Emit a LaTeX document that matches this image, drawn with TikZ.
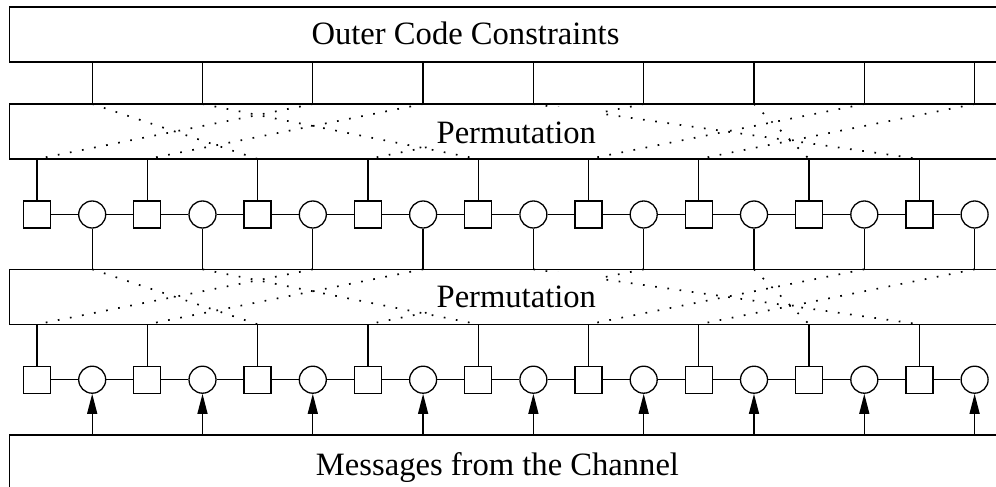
\documentclass[tikz,border=0pt]{standalone}
\usepackage{fontspec}
\setmainfont{Liberation Serif}
\usetikzlibrary{arrows.meta}
\begin{document}
\begin{tikzpicture}[x=1pt,y=-1pt,
  line width=1.3pt,
  sq/.style={draw, rectangle, minimum size=27pt, inner sep=0pt},
  ci/.style={draw, circle, minimum size=27pt, inner sep=0pt},
  permline/.style={line width=1.7pt, dash pattern=on 1.7pt off 10.6pt},
  lbl/.style={font=\fontsize{32.6}{39}\selectfont, anchor=base, inner sep=0pt},
  permlbl/.style={lbl, fill=white, inner xsep=3pt, inner ysep=2pt, text height=34pt, text depth=3pt},
  arr/.style={-{Triangle[length=20pt,width=10pt]}}]
\path[use as bounding box] (0,0) rectangle (996,487);
\clip (0,0) rectangle (996,487);
% boxes (open to the right)
\draw (9.3,7) rectangle (1010,62);
\draw (9.3,104) rectangle (1010,159);
\draw (9.3,269.3) rectangle (1010,324.3);
\draw (9.3,435) rectangle (1010,500);
% nodes and coordinates
\foreach \i in {1,...,9} {
  \pgfmathsetmacro\sx{37+110.3*(\i-1)}
  \pgfmathsetmacro\cx{92.2+110.3*(\i-1)}
  \coordinate (ob\i) at (\cx,62);
  \coordinate (pt\i) at (\cx,104);
  \coordinate (pb\i) at (\sx,159);
  \node[sq] (s\i) at (\sx,214.5) {};
  \node[ci] (c\i) at (\cx,214.5) {};
  \coordinate (qt\i) at (\cx,269.3);
  \coordinate (qb\i) at (\sx,324.3);
  \node[sq] (u\i) at (\sx,379.7) {};
  \node[ci] (v\i) at (\cx,379.7) {};
  \coordinate (mt\i) at (\cx,435);
}
% connectors
\foreach \i in {1,...,9} {
  \draw (ob\i) -- (pt\i);
  \draw (pb\i) -- (s\i.north);
  \draw (c\i.south) -- (qt\i);
  \draw (qb\i) -- (u\i.north);
  \draw[arr] (mt\i) -- (v\i.south);
  \draw (s\i) -- (c\i);
  \draw (u\i) -- (v\i);
}
\foreach \i [evaluate=\i as \j using int(\i+1)] in {1,...,8} {
  \draw (c\i) -- (s\j);
  \draw (v\i) -- (u\j);
}
% permutations
\foreach \a/\b in {1/3,2/5,3/1,4/2,5/9,6/4,7/8,8/6,9/7} {
  \draw[permline] (pt\a) -- (pb\b);
  \draw[permline] (qt\a) -- (qb\b);
}
% labels
\node[lbl] (outertxt) at (465.5,45) {Outer Code Constraints};
\node[permlbl] (p1txt) at (516.3,143.3) {Permutation};
\node[permlbl] (p2txt) at (516.3,307.7) {Permutation};
\node[lbl] (msgtxt) at (497.5,475) {Messages from the Channel};
\end{tikzpicture}
\end{document}
